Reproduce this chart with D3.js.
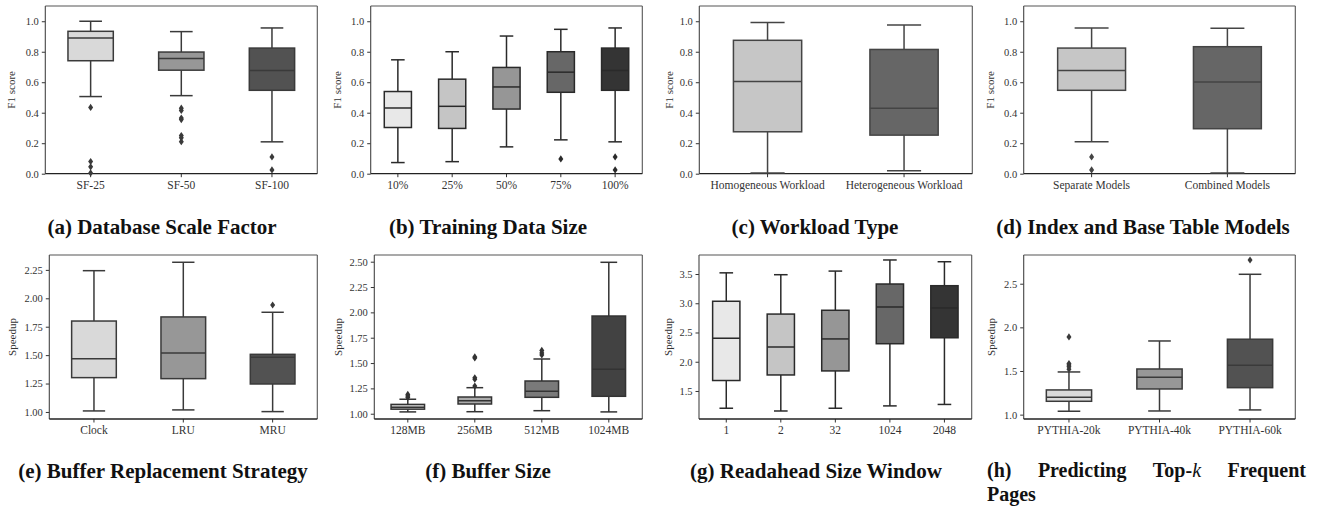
<!DOCTYPE html>
<html>
<head>
<meta charset="utf-8">
<script src="https://cdn.jsdelivr.net/npm/d3@7"></script>
<style>
  html, body { margin: 0; padding: 0; background: #fff; }
  svg { display: block; font-family: 'Liberation Serif', 'DejaVu Serif', serif; }
</style>
</head>
<body>
<svg id="chart" width="1318" height="512"></svg>
<script>
// box stats are [lower whisker, q1, median, q3, upper whisker]

// (a) Database Scale Factor
const sfCategories = ["SF-25", "SF-50", "SF-100"];
const sfStats = [
  [0.506, 0.741, 0.890, 0.934, 1.000],
  [0.512, 0.679, 0.756, 0.798, 0.932],
  [0.209, 0.547, 0.677, 0.824, 0.956]
];
const sfOutliers = [
  [0.435, 0.08, 0.045, 0.005],
  [0.43, 0.415, 0.365, 0.355, 0.25, 0.235, 0.21],
  [0.11, 0.025]
];

// (b) Training Data Size
const trainCategories = ["10%", "25%", "50%", "75%", "100%"];
const trainStats = [
  [0.073, 0.303, 0.431, 0.539, 0.747],
  [0.079, 0.297, 0.442, 0.620, 0.800],
  [0.176, 0.424, 0.569, 0.697, 0.903],
  [0.222, 0.534, 0.666, 0.800, 0.947],
  [0.209, 0.547, 0.677, 0.824, 0.956]
];
const trainOutliers = [[], [], [], [0.097], [0.11, 0.025]];

// (c) Workload Type
const workloadCategories = ["Homogeneous Workload", "Heterogeneous Workload"];
const workloadStats = [
  [0.005, 0.275, 0.604, 0.875, 0.991],
  [0.020, 0.253, 0.429, 0.815, 0.976]
];
const workloadOutliers = [[], []];

// (d) Index and Base Table Models
const modelCategories = ["Separate Models", "Combined Models"];
const modelStats = [
  [0.209, 0.547, 0.677, 0.824, 0.956],
  [0.005, 0.295, 0.602, 0.833, 0.954]
];
const modelOutliers = [[0.11, 0.025], []];

// (e) Buffer Replacement Strategy
const strategyCategories = ["Clock", "LRU", "MRU"];
const strategyStats = [
  [1.009, 1.302, 1.469, 1.800, 2.243],
  [1.018, 1.293, 1.519, 1.836, 2.317],
  [1.003, 1.246, 1.481, 1.507, 1.877]
];
const strategyOutliers = [[], [], [1.941]];

// (f) Buffer Size
const bufferCategories = ["128MB", "256MB", "512MB", "1024MB"];
const bufferStats = [
  [1.018, 1.045, 1.065, 1.092, 1.143],
  [1.020, 1.096, 1.128, 1.165, 1.257],
  [1.030, 1.162, 1.221, 1.323, 1.540],
  [1.018, 1.172, 1.438, 1.964, 2.494]
];
const bufferOutliers = [
  [1.16, 1.175, 1.19],
  [1.273, 1.34, 1.355, 1.55, 1.56],
  [1.58, 1.60, 1.625],
  []
];

// (g) Readahead Size Window
const readaheadCategories = ["1", "2", "32", "1024", "2048"];
const readaheadStats = [
  [1.205, 1.679, 2.402, 3.034, 3.520],
  [1.158, 1.774, 2.252, 2.815, 3.488],
  [1.205, 1.843, 2.390, 2.880, 3.550],
  [1.245, 2.308, 2.936, 3.329, 3.740],
  [1.270, 2.410, 2.920, 3.300, 3.710]
];
const readaheadOutliers = [[], [], [], [], []];

// (h) Predicting Top-k Frequent Pages
const pythiaCategories = ["PYTHIA-20k", "PYTHIA-40k", "PYTHIA-60k"];
const pythiaStats = [
  [1.039, 1.153, 1.199, 1.283, 1.489],
  [1.042, 1.294, 1.428, 1.523, 1.844],
  [1.054, 1.309, 1.566, 1.864, 2.608]
];
const pythiaOutliers = [[1.52, 1.55, 1.57, 1.585, 1.89], [], [2.772]];

// y tick labels
const f1Ticks = [0.0, 0.2, 0.4, 0.6, 0.8, 1.0];
const strategyTicks = [1.00, 1.25, 1.50, 1.75, 2.00, 2.25];
const bufferTicks = [1.00, 1.25, 1.50, 1.75, 2.00, 2.25, 2.50];
const readaheadTicks = [1.5, 2.0, 2.5, 3.0, 3.5];
const pythiaTicks = [1.0, 1.5, 2.0, 2.5];

// fills
const grey2 = ["#c6c6c6", "#666666"];
const grey3 = ["#d9d9d9", "#979797", "#525252"];
const grey4 = ["#d0d0d0", "#ababab", "#7a7a7a", "#424242"];
const grey5 = ["#e8e8e8", "#c5c5c5", "#969696", "#676767", "#343434"];

const titleSize = "21px";

const panels = [
  { cats: sfCategories, stats: sfStats, outs: sfOutliers, fills: grey3, edge: "#3a3a3a",
    ticks: f1Ticks, fmt: ".1f", dom: [0, 1.1], ylabel: "F1 score", labelX: 12,
    box: [45.3, 317.3, 6, 173.7], title: "(a) Database Scale Factor", titleX: 162, titleY: 234 },
  { cats: trainCategories, stats: trainStats, outs: trainOutliers, fills: grey5, edge: "#2a2a2a",
    ticks: f1Ticks, fmt: ".1f", dom: [0, 1.1], ylabel: "F1 score", labelX: 338,
    box: [370.7, 642.3, 6, 173.7], title: "(b) Training Data Size", titleX: 488, titleY: 234 },
  { cats: workloadCategories, stats: workloadStats, outs: workloadOutliers, fills: grey2, edge: "#444444",
    ticks: f1Ticks, fmt: ".1f", dom: [0, 1.1], ylabel: "F1 score", labelX: 670,
    box: [699.3, 972.3, 6, 173.7], title: "(c) Workload Type", titleX: 815, titleY: 234 },
  { cats: modelCategories, stats: modelStats, outs: modelOutliers, fills: grey2, edge: "#444444",
    ticks: f1Ticks, fmt: ".1f", dom: [0, 1.1], ylabel: "F1 score", labelX: 991,
    box: [1023.7, 1295.3, 6, 173.7], title: "(d) Index and Base Table Models", titleX: 1143, titleY: 234 },
  { cats: strategyCategories, stats: strategyStats, outs: strategyOutliers, fills: grey3, edge: "#3a3a3a",
    ticks: strategyTicks, fmt: ".2f", dom: [0.938, 2.381], ylabel: "Speedup", labelX: 13,
    box: [49.3, 317.3, 255, 419], title: "(e) Buffer Replacement Strategy", titleX: 163, titleY: 478 },
  { cats: bufferCategories, stats: bufferStats, outs: bufferOutliers, fills: grey4, edge: "#333333",
    ticks: bufferTicks, fmt: ".2f", dom: [0.948, 2.566], ylabel: "Speedup", labelX: 339,
    box: [374.3, 642.3, 255, 419], title: "(f) Buffer Size", titleX: 488, titleY: 478 },
  { cats: readaheadCategories, stats: readaheadStats, outs: readaheadOutliers, fills: grey5, edge: "#2a2a2a",
    ticks: readaheadTicks, fmt: ".1f", dom: [1.021, 3.825], ylabel: "Speedup", labelX: 669,
    box: [699, 971.7, 255, 419], title: "(g) Readahead Size Window", titleX: 816, titleY: 478 },
  { cats: pythiaCategories, stats: pythiaStats, outs: pythiaOutliers, fills: grey3, edge: "#3a3a3a",
    ticks: pythiaTicks, fmt: ".1f", dom: [0.95, 2.829], ylabel: "Speedup", labelX: 992,
    box: [1023.7, 1295.3, 255, 419], title: null }
];

const svg = d3.select("#chart");

function diamond(cx, cy) {
  return `M${cx},${cy - 3.6}L${cx + 2.5},${cy}L${cx},${cy + 3.6}L${cx - 2.5},${cy}Z`;
}

panels.forEach(p => {
  const [x0, x1, y0, y1] = p.box;
  const x = d3.scaleBand().domain(p.cats).range([x0, x1]).padding(0);
  const y = d3.scaleLinear().domain(p.dom).range([y1, y0]);
  const g = svg.append("g");
  const bw = x.bandwidth() * 0.5;

  // axes
  const yAxis = g.append("g")
    .attr("transform", `translate(${x0},0)`)
    .call(d3.axisLeft(y).tickValues(p.ticks).tickFormat(d3.format(p.fmt)).tickSize(3.5).tickPadding(3));
  yAxis.selectAll("text").style("font-size", "10.5px").style("fill", "#333")
    .style("font-family", "'Liberation Serif', serif");

  const xAxis = g.append("g")
    .attr("transform", `translate(0,${y1})`)
    .call(d3.axisBottom(x).tickSize(3.5).tickPadding(3.5));
  xAxis.selectAll("text").style("font-size", "11.5px").style("fill", "#333")
    .style("font-family", "'Liberation Serif', serif");

  g.selectAll(".domain").remove();
  g.selectAll(".tick line").style("stroke", "#333").style("stroke-width", 1);

  // frame
  g.append("line").attr("x1", x0).attr("x2", x1).attr("y1", y0).attr("y2", y0)
    .attr("stroke", "#555").attr("stroke-width", 1.1);
  g.append("line").attr("x1", x1).attr("x2", x1).attr("y1", y0).attr("y2", y1)
    .attr("stroke", "#555").attr("stroke-width", 1.1);
  g.append("line").attr("x1", x0).attr("x2", x0).attr("y1", y0).attr("y2", y1)
    .attr("stroke", "#444").attr("stroke-width", 1.1);
  g.append("line").attr("x1", x0).attr("x2", x1).attr("y1", y1).attr("y2", y1)
    .attr("stroke", "#222").attr("stroke-width", 1.3);

  // y label
  g.append("text")
    .attr("transform", `translate(${p.labelX},${(y0 + y1) / 2}) rotate(-90)`)
    .attr("text-anchor", "middle")
    .attr("dominant-baseline", "middle")
    .style("font-size", "11px")
    .style("fill", "#333")
    .text(p.ylabel);

  // boxes
  p.cats.forEach((c, i) => {
    const [lo, q1, med, q3, hi] = p.stats[i];
    const cx = x(c) + x.bandwidth() / 2;
    const bg = g.append("g");
    bg.append("line").attr("x1", cx).attr("x2", cx).attr("y1", y(lo)).attr("y2", y(q1))
      .attr("stroke", p.edge).attr("stroke-width", 1.5);
    bg.append("line").attr("x1", cx).attr("x2", cx).attr("y1", y(q3)).attr("y2", y(hi))
      .attr("stroke", p.edge).attr("stroke-width", 1.5);
    [lo, hi].forEach(v => {
      bg.append("line").attr("x1", cx - bw / 4).attr("x2", cx + bw / 4)
        .attr("y1", y(v)).attr("y2", y(v))
        .attr("stroke", p.edge).attr("stroke-width", 1.5);
    });
    bg.append("rect")
      .attr("x", cx - bw / 2).attr("width", bw)
      .attr("y", y(q3)).attr("height", y(q1) - y(q3))
      .attr("fill", p.fills[i])
      .attr("stroke", p.edge).attr("stroke-width", 1.5);
    bg.append("line").attr("x1", cx - bw / 2).attr("x2", cx + bw / 2)
      .attr("y1", y(med)).attr("y2", y(med))
      .attr("stroke", p.edge).attr("stroke-width", 1.5);
    bg.selectAll("path.out")
      .data(p.outs[i])
      .enter()
      .append("path")
      .attr("class", "out")
      .attr("d", v => diamond(cx, y(v)))
      .attr("fill", p.edge);
  });

  if (p.title) {
    svg.append("text")
      .attr("x", p.titleX).attr("y", p.titleY)
      .attr("text-anchor", "middle")
      .style("font-size", titleSize)
      .style("font-weight", "bold")
      .style("fill", "#111")
      .text(p.title);
  }
});

// (h) caption: justified over the column, wraps to a second line
const hWords = ["(h)", "Predicting", "Top-", "Frequent"];
const hLeft = 987, hRight = 1306;
const hNodes = hWords.map(w => {
  const t = svg.append("text")
    .attr("y", 477)
    .style("font-size", "20px")
    .style("font-weight", "bold")
    .style("fill", "#111");
  t.append("tspan").text(w);
  if (w === "Top-") {
    t.append("tspan").style("font-style", "italic").style("font-weight", "normal").text("k");
  }
  return t;
});
const widths = hNodes.map(t => t.node().getComputedTextLength());
const gap = (hRight - hLeft - d3.sum(widths)) / (hWords.length - 1);
let cursor = hLeft;
hNodes.forEach((t, i) => {
  t.attr("x", cursor);
  cursor += widths[i] + gap;
});
svg.append("text")
  .attr("x", hLeft).attr("y", 501)
  .style("font-size", "20px")
  .style("font-weight", "bold")
  .style("fill", "#111")
  .text("Pages");
</script>
</body>
</html>
